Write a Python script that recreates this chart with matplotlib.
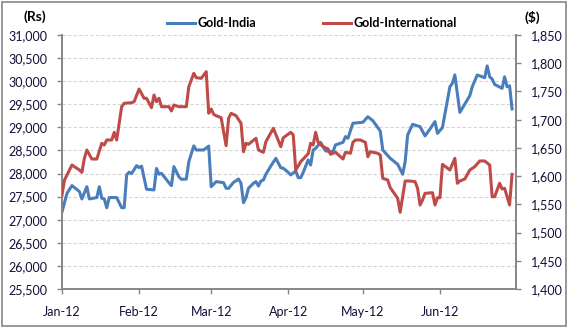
import matplotlib
matplotlib.use("Agg")
from matplotlib import pyplot as plt
from matplotlib.patches import Rectangle
from matplotlib.ticker import MultipleLocator, FuncFormatter
import matplotlib.dates as md
import pandas as pd

plt.rcParams['font.family'] = ['Lato', 'DejaVu Sans']

# Gold price in India (Rs per 10 g), left axis
india_dates = ['2012-01-01', '2012-01-03', '2012-01-05', '2012-01-08', '2012-01-09', '2012-01-11',
               '2012-01-12', '2012-01-15', '2012-01-16', '2012-01-17', '2012-01-18', '2012-01-19',
               '2012-01-20', '2012-01-23', '2012-01-25', '2012-01-26', '2012-01-27', '2012-01-28',
               '2012-01-29', '2012-01-31', '2012-02-01', '2012-02-02', '2012-02-04', '2012-02-07',
               '2012-02-08', '2012-02-09', '2012-02-10', '2012-02-13', '2012-02-14', '2012-02-15',
               '2012-02-17', '2012-02-18', '2012-02-20', '2012-02-21', '2012-02-23', '2012-02-24',
               '2012-02-27', '2012-02-29', '2012-03-01', '2012-03-03', '2012-03-05', '2012-03-06',
               '2012-03-07', '2012-03-08', '2012-03-10', '2012-03-12', '2012-03-13', '2012-03-14',
               '2012-03-15', '2012-03-16', '2012-03-18', '2012-03-19', '2012-03-20', '2012-03-21',
               '2012-03-22', '2012-03-23', '2012-03-25', '2012-03-27', '2012-03-29', '2012-03-30',
               '2012-04-01', '2012-04-02', '2012-04-04', '2012-04-05', '2012-04-06', '2012-04-07',
               '2012-04-09', '2012-04-10', '2012-04-11', '2012-04-12', '2012-04-14', '2012-04-15',
               '2012-04-16', '2012-04-18', '2012-04-19', '2012-04-20', '2012-04-23', '2012-04-24',
               '2012-04-25', '2012-04-27', '2012-05-01', '2012-05-03', '2012-05-05', '2012-05-08',
               '2012-05-09', '2012-05-12', '2012-05-15', '2012-05-17', '2012-05-18', '2012-05-19',
               '2012-05-21', '2012-05-24', '2012-05-26', '2012-05-28', '2012-05-30', '2012-05-31',
               '2012-06-02', '2012-06-05', '2012-06-06', '2012-06-07', '2012-06-09', '2012-06-13',
               '2012-06-14', '2012-06-16', '2012-06-19', '2012-06-20', '2012-06-21', '2012-06-22',
               '2012-06-23', '2012-06-26', '2012-06-27', '2012-06-28', '2012-06-29', '2012-06-30']
india_rs = [27170, 27570, 27740, 27610, 27450, 27715, 27450, 27480, 27715, 27465, 27450, 27260,
            27480, 27480, 27260, 27260, 27970, 28030, 28000, 28170, 28130, 28160, 27660, 27645,
            28110, 27985, 28005, 27800, 27737, 28150, 27930, 27875, 27880, 28255, 28600, 28510,
            28510, 28595, 27715, 27825, 27810, 27800, 27680, 27680, 27810, 27880, 27790, 27370,
            27480, 27680, 27790, 27825, 27730, 27840, 27860, 27985, 28165, 28330, 28125, 28115,
            28025, 27970, 28055, 27910, 27910, 28025, 28295, 28185, 28510, 28545, 28675, 28580,
            28490, 28475, 28475, 28620, 28675, 28800, 28765, 29090, 29110, 29230, 29145, 28920,
            28510, 28330, 28200, 27985, 28255, 28835, 29065, 29015, 28815, 28965, 29125, 28870,
            28995, 29880, 29955, 30135, 29325, 29685, 29880, 30135, 30075, 30330, 30095, 30045,
            29930, 29845, 30095, 29880, 29900, 29400]

# International gold price (US$ per oz), right axis
intl_dates = ['2012-01-01', '2012-01-02', '2012-01-05', '2012-01-06', '2012-01-08', '2012-01-09',
              '2012-01-10', '2012-01-11', '2012-01-13', '2012-01-15', '2012-01-17', '2012-01-18',
              '2012-01-19', '2012-01-21', '2012-01-22', '2012-01-23', '2012-01-25', '2012-01-26',
              '2012-01-29', '2012-01-30', '2012-02-01', '2012-02-03', '2012-02-04', '2012-02-06',
              '2012-02-07', '2012-02-08', '2012-02-09', '2012-02-10', '2012-02-13', '2012-02-14',
              '2012-02-15', '2012-02-17', '2012-02-20', '2012-02-21', '2012-02-23', '2012-02-24',
              '2012-02-26', '2012-02-28', '2012-02-29', '2012-03-01', '2012-03-02', '2012-03-03',
              '2012-03-05', '2012-03-07', '2012-03-08', '2012-03-09', '2012-03-11', '2012-03-13',
              '2012-03-14', '2012-03-15', '2012-03-16', '2012-03-19', '2012-03-20', '2012-03-22',
              '2012-03-23', '2012-03-26', '2012-03-29', '2012-03-30', '2012-04-02', '2012-04-03',
              '2012-04-04', '2012-04-06', '2012-04-09', '2012-04-10', '2012-04-11', '2012-04-12',
              '2012-04-13', '2012-04-15', '2012-04-17', '2012-04-18', '2012-04-20', '2012-04-23',
              '2012-04-24', '2012-04-26', '2012-04-27', '2012-04-28', '2012-04-30', '2012-05-02',
              '2012-05-03', '2012-05-04', '2012-05-07', '2012-05-08', '2012-05-09', '2012-05-11',
              '2012-05-12', '2012-05-15', '2012-05-16', '2012-05-18', '2012-05-20', '2012-05-22',
              '2012-05-23', '2012-05-24', '2012-05-25', '2012-05-26', '2012-05-29', '2012-05-30',
              '2012-05-31', '2012-06-01', '2012-06-02', '2012-06-05', '2012-06-07', '2012-06-08',
              '2012-06-09', '2012-06-11', '2012-06-13', '2012-06-15', '2012-06-17', '2012-06-19',
              '2012-06-21', '2012-06-22', '2012-06-23', '2012-06-25', '2012-06-26', '2012-06-27',
              '2012-06-29', '2012-06-30']
intl_usd = [1566.5, 1593.0, 1619.7, 1616.7, 1610.8, 1606.7, 1631.5, 1646.3, 1630.3, 1630.3,
            1658.1, 1655.1, 1664.0, 1664.0, 1677.6, 1664.0, 1723.0, 1729.0, 1730.1, 1731.8,
            1754.3, 1737.9, 1737.9, 1721.2, 1743.7, 1731.8, 1737.9, 1723.0, 1723.0, 1715.4,
            1726.0, 1723.0, 1723.0, 1758.4, 1782.1, 1774.4, 1773.3, 1785.0, 1711.3, 1718.9,
            1709.5, 1707.0, 1703.5, 1653.9, 1702.4, 1711.3, 1707.0, 1693.6, 1643.2, 1658.1,
            1656.4, 1667.0, 1646.3, 1642.2, 1661.0, 1684.7, 1652.1, 1668.0, 1677.6, 1672.8,
            1610.8, 1625.5, 1639.7, 1658.1, 1655.1, 1677.6, 1659.9, 1652.1, 1648.0, 1638.6,
            1642.2, 1630.3, 1642.2, 1640.4, 1659.9, 1664.0, 1664.0, 1659.9, 1634.4, 1643.2,
            1640.4, 1637.4, 1596.1, 1593.1, 1579.5, 1560.7, 1535.9, 1591.3, 1591.3, 1590.1,
            1578.4, 1548.8, 1557.7, 1569.5, 1570.6, 1548.8, 1561.7, 1561.7, 1620.9, 1610.8,
            1631.5, 1587.3, 1591.3, 1594.9, 1610.8, 1616.7, 1626.8, 1626.8, 1619.7, 1563.5,
            1563.5, 1587.3, 1577.2, 1578.4, 1548.8, 1603.2]

BLUE = '#4A7EBB'
RED = '#BE4B48'
GREY = '#868686'

fig = plt.figure(figsize=(5.68, 3.28), dpi=100)
ax = fig.add_axes([62 / 568, 1 - 289 / 328, 454 / 568, 254 / 328])
ax2 = ax.twinx()

l1, = ax.plot(pd.to_datetime(india_dates), india_rs, color=BLUE, lw=2.2,
              solid_joinstyle='round', zorder=3, label='Gold-India')
l2, = ax2.plot(pd.to_datetime(intl_dates), intl_usd, color=RED, lw=2.2,
               solid_joinstyle='round', zorder=3, label='Gold-International')

ax.set_xlim(pd.Timestamp('2012-01-01'), pd.Timestamp('2012-07-01 14:00'))
ax.set_ylim(25500, 31000)
ax2.set_ylim(1400, 1850)
ax.yaxis.set_major_locator(MultipleLocator(500))
ax2.yaxis.set_major_locator(MultipleLocator(50))
comma = FuncFormatter(lambda v, p: '{:,.0f}'.format(v))
ax.yaxis.set_major_formatter(comma)
ax2.yaxis.set_major_formatter(comma)
# month ticks Jan..Jun only (the axis ends at the close of June)
ax.xaxis.set_major_locator(md.MonthLocator(bymonth=range(1, 7)))
ax.xaxis.set_major_formatter(md.DateFormatter('%b-%y'))

ax.grid(axis='y', color='#D4D4D4', linestyle=(0, (3, 2)), lw=0.8)
ax.set_axisbelow(True)

for a in (ax, ax2):
    a.spines['top'].set_visible(False)
    for s in ('left', 'right', 'bottom'):
        a.spines[s].set_color(GREY)
        a.spines[s].set_linewidth(1.2)
    a.tick_params(colors=GREY, labelcolor='#10103A', labelsize=9, length=3.5, width=1)
ax.tick_params(axis='y', pad=7)
ax2.tick_params(axis='y', pad=7)
ax.tick_params(axis='x', pad=9)

fig.text(35 / 568, 1 - 17 / 328, '(Rs)', ha='center', va='center', fontsize=10, fontweight='bold')
fig.text(532 / 568, 1 - 17 / 328, '($)', ha='center', va='center', fontsize=10, fontweight='bold')

fig.legend(handles=[l1, l2], ncol=2, loc='center', bbox_to_anchor=(312 / 568, 1 - 23 / 328),
           frameon=False, prop={'weight': 'bold', 'size': 9}, handlelength=2.2,
           handletextpad=0.2, columnspacing=5.4, borderpad=0)

fig.patches.append(Rectangle((1.5 / 568, 2 / 328), 564.5 / 568, 324.5 / 328,
                             transform=fig.transFigure, fill=False, edgecolor=GREY, lw=1.2))

fig.savefig('out.png', dpi=100)
